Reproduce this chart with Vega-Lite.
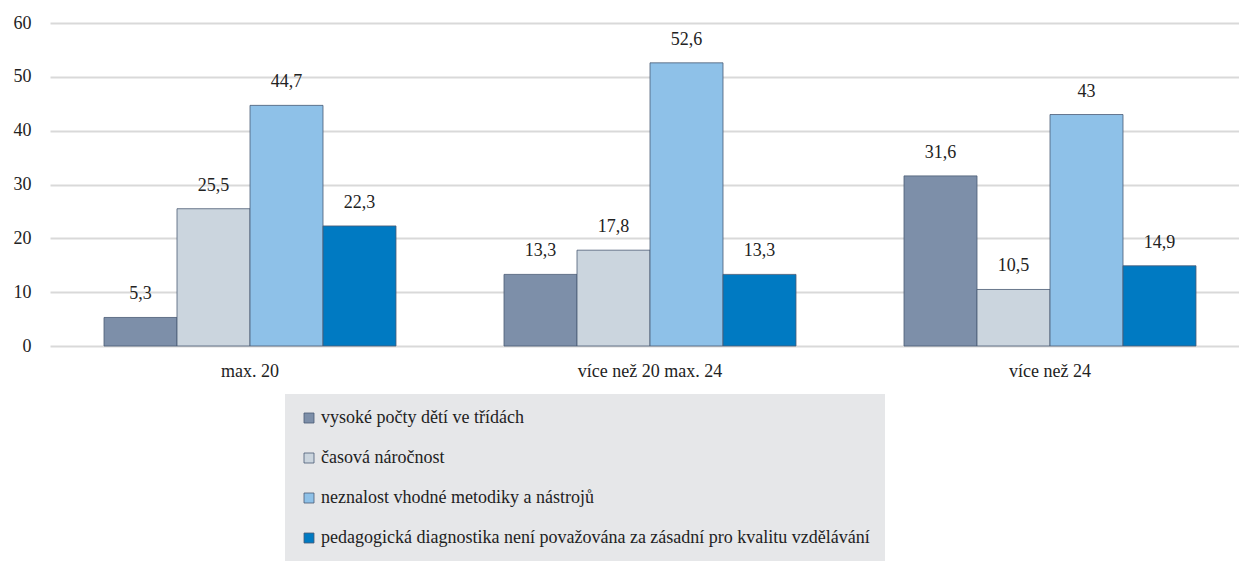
{
  "$schema": "https://vega.github.io/schema/vega-lite/v6.json",
  "autosize": {"type": "none"},
  "padding": {"left": 50, "top": 23, "right": 0, "bottom": 215},
  "width": 1200,
  "height": 323,
  "data": {"values": [
    {"skupina": "max. 20", "duvod": "vysoké počty dětí ve třídách", "hodnota": 5.3},
    {"skupina": "max. 20", "duvod": "časová náročnost", "hodnota": 25.5},
    {"skupina": "max. 20", "duvod": "neznalost vhodné metodiky a nástrojů", "hodnota": 44.7},
    {"skupina": "max. 20", "duvod": "pedagogická diagnostika není považována za zásadní pro kvalitu vzdělávání", "hodnota": 22.3},
    {"skupina": "více než 20 max. 24", "duvod": "vysoké počty dětí ve třídách", "hodnota": 13.3},
    {"skupina": "více než 20 max. 24", "duvod": "časová náročnost", "hodnota": 17.8},
    {"skupina": "více než 20 max. 24", "duvod": "neznalost vhodné metodiky a nástrojů", "hodnota": 52.6},
    {"skupina": "více než 20 max. 24", "duvod": "pedagogická diagnostika není považována za zásadní pro kvalitu vzdělávání", "hodnota": 13.3},
    {"skupina": "více než 24", "duvod": "vysoké počty dětí ve třídách", "hodnota": 31.6},
    {"skupina": "více než 24", "duvod": "časová náročnost", "hodnota": 10.5},
    {"skupina": "více než 24", "duvod": "neznalost vhodné metodiky a nástrojů", "hodnota": 43},
    {"skupina": "více než 24", "duvod": "pedagogická diagnostika není považována za zásadní pro kvalitu vzdělávání", "hodnota": 14.9}
  ]},
  "encoding": {
    "x": {"field": "skupina", "type": "nominal", "sort": null, "title": null,
      "scale": {"paddingInner": 0.27, "paddingOuter": 0.135},
      "axis": {"labelAngle": 0, "domain": false, "ticks": false, "labelPadding": 16, "labelFontSize": 18, "labelFont": "Times New Roman"}},
    "xOffset": {"field": "duvod", "type": "nominal", "sort": null},
    "y": {"field": "hodnota", "type": "quantitative", "title": null,
      "scale": {"domain": [0, 60], "nice": false},
      "axis": {"values": [0, 10, 20, 30, 40, 50, 60], "domain": false, "ticks": false, "labelPadding": 19, "labelFontSize": 18, "labelFont": "Times New Roman", "grid": true, "gridColor": "#d9d9d9", "gridWidth": 2}}
  },
  "layer": [
    {
      "mark": {"type": "bar", "stroke": "#4a5b73", "strokeWidth": 0.8},
      "encoding": {
        "color": {"field": "duvod", "type": "nominal", "sort": null, "title": null,
          "scale": {
            "domain": ["vysoké počty dětí ve třídách", "časová náročnost", "neznalost vhodné metodiky a nástrojů", "pedagogická diagnostika není považována za zásadní pro kvalitu vzdělávání"],
            "range": ["#7d8fa9", "#cbd5de", "#8ec1e8", "#007ac2"]},
          "legend": {
            "orient": "none", "legendX": 235, "legendY": 371, "direction": "vertical",
            "fillColor": "#e6e7e9", "padding": 15, "rowPadding": 22,
            "symbolType": "square", "symbolSize": 100, "symbolStrokeColor": "#4a5b73", "symbolStrokeWidth": 0.8,
            "labelFont": "Times New Roman",
            "labelFontSize": 18, "labelLimit": 800, "labelOffset": 3, "labelColor": "#222"
          }}
      }
    },
    {
      "mark": {"type": "text", "baseline": "bottom", "dy": -14, "fontSize": 18, "font": "Times New Roman", "color": "#222"},
      "encoding": {
        "text": {"field": "hodnota", "type": "quantitative", "format": ".3~r"}
      }
    }
  ],
  "config": {
    "font": "Times New Roman",
    "view": {"stroke": null},
    "axis": {"labelColor": "#222"},
    "locale": {"number": {"decimal": ",", "thousands": " ", "grouping": [3], "currency": ["", " Kč"]}}
  }
}
